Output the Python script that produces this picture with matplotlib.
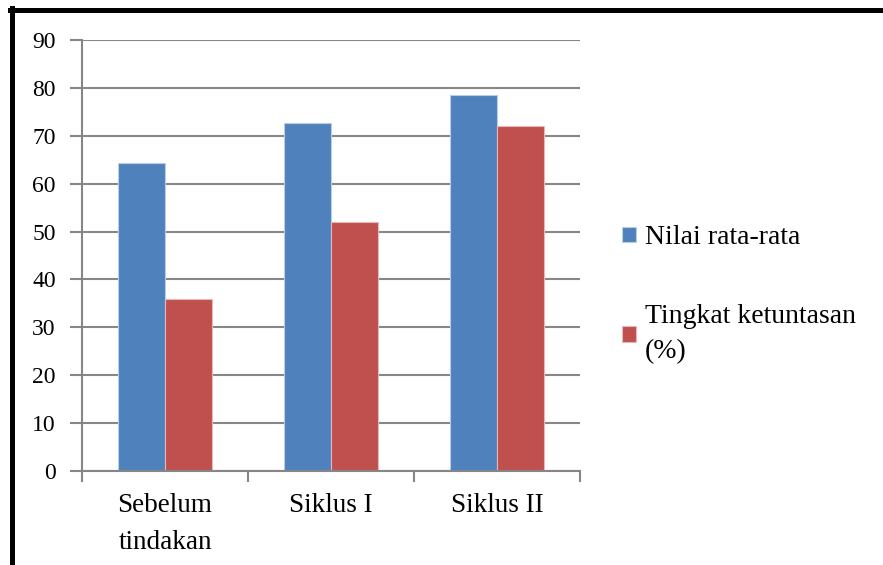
import matplotlib
matplotlib.use("Agg")
import matplotlib.pyplot as plt
import numpy as np
from matplotlib.lines import Line2D

categories = ["Sebelum\ntindakan", "Siklus I", "Siklus II"]
nilai = [64.4, 72.6, 78.6]
ketuntasan = [36, 52, 72]
series_names = ["Nilai rata-rata", "Tingkat ketuntasan\n(%)"]
yticks = np.arange(0, 100, 10)

plt.rcParams['font.family'] = ['Liberation Serif', 'DejaVu Serif']

fig = plt.figure(figsize=(8.83, 5.65), dpi=100)
ax = fig.add_axes([0.0929, 0.1664, 0.564, 0.7628])

x = np.arange(len(categories))
w = 0.285
grid_c = "#868686"

ax.set_axisbelow(True)
ax.yaxis.grid(True, color=grid_c, linewidth=1.5)
b1 = ax.bar(x - w / 2, nilai, w, color="#4F81BD", edgecolor="#B9CDE5", linewidth=0.8, label=series_names[0])
b2 = ax.bar(x + w / 2, ketuntasan, w, color="#C0504D", edgecolor="#E6B9B8", linewidth=0.8, label=series_names[1])

ax.set_xlim(-0.5, 2.5)
ax.set_ylim(0, 90)
ax.set_yticks(yticks)
ax.set_yticklabels([str(v) for v in yticks], fontsize=17)
ax.tick_params(axis='y', length=9, width=1.5, color=grid_c, pad=10)

# category labels between boundary ticks
ax.set_xticks(np.arange(-0.5, 3, 1))
ax.set_xticklabels([])
ax.set_xticks(x, minor=True)
ax.set_xticklabels(categories, minor=True, fontsize=19.5, linespacing=1.6)
ax.tick_params(axis='x', which='major', length=8, width=1.5, color=grid_c)
ax.tick_params(axis='x', which='minor', length=0, pad=16)

for s in ['top', 'right']:
    ax.spines[s].set_visible(False)
for s in ['left', 'bottom']:
    ax.spines[s].set_color(grid_c)
    ax.spines[s].set_linewidth(1.5)

leg = fig.legend(handles=[b1, b2], loc='center left', bbox_to_anchor=(0.676, 0.478),
                 frameon=False, fontsize=20, handlelength=0.5, handleheight=0.5,
                 handletextpad=0.32, labelspacing=1.93)
for t in leg.get_texts():
    t.set_linespacing(1.55)

# black frame on top and left
fig.add_artist(Line2D([0.011, 1.0], [0.982, 0.982], color='black', linewidth=3.6, transform=fig.transFigure))
fig.add_artist(Line2D([0.0136, 0.0136], [0.0, 0.985], color='black', linewidth=3.6, transform=fig.transFigure))

fig.savefig("out.png", dpi=100)
